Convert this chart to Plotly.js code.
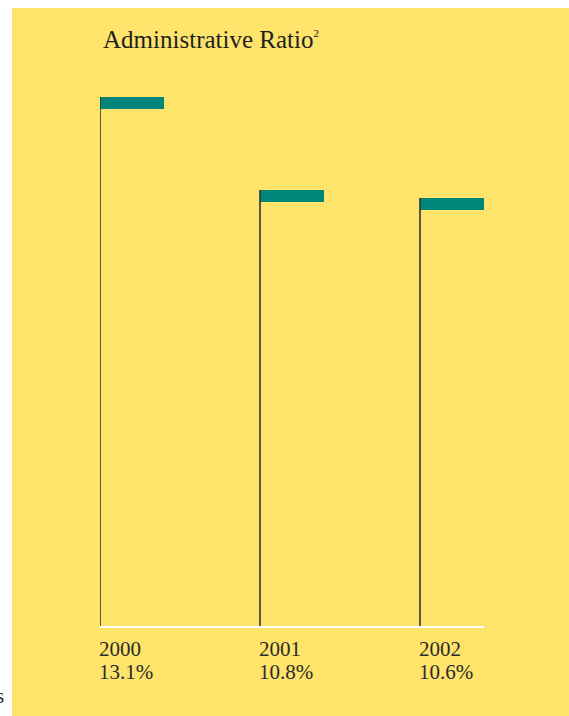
<!DOCTYPE html>
<html>
<head>
<meta charset="utf-8">
<script src="https://cdn.plot.ly/plotly-3.0.1.min.js"></script>
<style>
  html, body { margin: 0; padding: 0; background: #ffffff; }
  #chart { width: 569px; height: 716px; }
</style>
</head>
<body>
<div id="chart"></div>
<script>
// Administrative ratio by year
const years = ['2000', '2001', '2002'];
const ratios = [13.1, 10.8, 10.6];
const valueLabels = ['13.1%', '10.8%', '10.6%'];

const serif = '"Liberation Serif", "DejaVu Serif", serif';
const yellow = '#FEE46B';
const teal = '#00857B';
const ink = '#2a2a2a';

const xs = years.map((_, i) => i);

// Thin stems rising from the baseline to each value
const stemX = [], stemY = [];
xs.forEach((x, i) => { stemX.push(x, x, null); stemY.push(0, ratios[i], null); });

// Flag thickness in data units (about 12px)
const flagH = 0.297;

const stems = {
  type: 'scatter', mode: 'lines', x: stemX, y: stemY,
  line: { color: '#333333', width: 1.6 }, cliponaxis: false,
  hoverinfo: 'skip', showlegend: false
};

const flags = {
  type: 'bar', x: xs, y: ratios.map(() => flagH),
  base: ratios.map(v => v - flagH),
  offset: 0, width: 0.4,
  marker: { color: teal, line: { width: 0 } },
  hoverinfo: 'skip', showlegend: false
};

const annotations = [];
xs.forEach((x, i) => {
  annotations.push({
    xref: 'x', yref: 'paper', x: x, y: 0, xanchor: 'left', yanchor: 'middle',
    xshift: -3, yshift: -23, text: years[i], showarrow: false,
    font: { family: serif, size: 21, color: ink }
  });
  annotations.push({
    xref: 'x', yref: 'paper', x: x, y: 0, xanchor: 'left', yanchor: 'middle',
    xshift: -3, yshift: -46, text: valueLabels[i], showarrow: false,
    font: { family: serif, size: 21, color: ink }
  });
});
// fragment of neighbouring page text at the left margin
annotations.push({
  xref: 'paper', yref: 'paper', x: (6 - 100) / 384, y: 0, xanchor: 'right', yanchor: 'middle',
  yshift: -70, text: 's', showarrow: false,
  font: { family: serif, size: 21, color: ink }
});

const layout = {
  width: 569, height: 716,
  margin: { l: 100, r: 85, t: 97, b: 90 },
  paper_bgcolor: '#ffffff',
  plot_bgcolor: 'rgba(0,0,0,0)',
  title: {
    text: 'Administrative Ratio<sup><span style="font-size:11px">2</span></sup>',
    xref: 'paper', x: 0.008, xanchor: 'left',
    yref: 'container', y: 1 - 39 / 716, yanchor: 'middle',
    font: { family: serif, size: 25, color: '#1f1f1f' }
  },
  xaxis: {
    range: [0, 2.4], showgrid: false, zeroline: false, showticklabels: false,
    ticks: '', showline: true, linecolor: '#ffffff', linewidth: 1.5, fixedrange: true
  },
  yaxis: {
    range: [0, 13.1], visible: false, showgrid: false, zeroline: false, fixedrange: true
  },
  shapes: [{
    type: 'rect', xref: 'paper', yref: 'paper', layer: 'below',
    x0: -88 / 384, x1: 469 / 384, y0: -90 / 529, y1: 618 / 529,
    fillcolor: yellow, line: { width: 0 }
  }],
  annotations: annotations,
  bargap: 0,
  showlegend: false
};

Plotly.newPlot('chart', [stems, flags], layout, { displayModeBar: false, staticPlot: true });
</script>
</body>
</html>
